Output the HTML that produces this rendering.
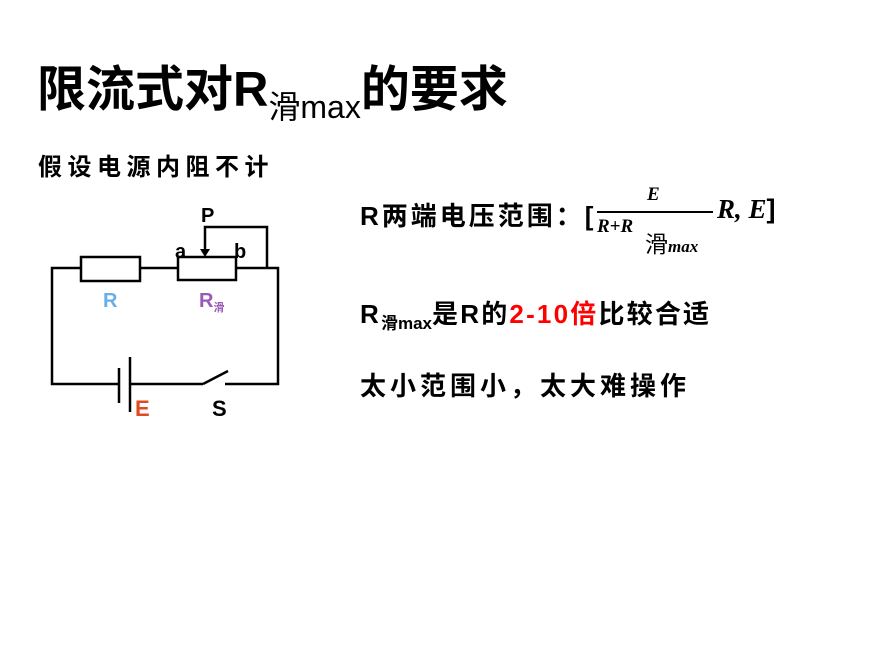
<!DOCTYPE html>
<html><head><meta charset="utf-8"><style>
body{margin:0;width:894px;height:668px;background:#fff;position:relative;font-family:"Liberation Sans","Noto Sans CJK SC",sans-serif;overflow:hidden}
.t{position:absolute;white-space:nowrap;color:#000}
.m{font-size:26px;font-weight:bold;letter-spacing:3px}
</style></head><body>
<div class="t" style="left:37px;top:50px;font-size:49px;font-weight:bold">限流式对R<span style="font-size:32px;font-weight:normal;position:relative;top:12px">滑max</span>的要求</div>
<div class="t" style="left:38px;top:147px;font-size:24px;letter-spacing:5.5px;font-weight:bold">假设电源内阻不计</div>
<div class="t m" style="left:360px;top:196px;">R两端电压范围：[</div>
<div class="t" style="left:647px;top:184px;font-size:19px;font-style:italic;font-weight:bold;font-family:'Liberation Serif',serif">E</div>
<div style="position:absolute;left:597px;top:211px;width:116px;height:2px;background:#000"></div>
<div class="t" style="left:597px;top:216px;font-size:19px;font-style:italic;font-weight:bold;font-family:'Liberation Serif',serif">R+R</div>
<div class="t" style="left:645px;top:225px;font-size:23px">滑<span style="font-size:17px;font-style:italic;font-weight:bold;font-family:'Liberation Serif',serif">max</span></div>
<div class="t" style="left:717px;top:194px;font-size:27px;font-style:italic;font-weight:bold;font-family:'Liberation Serif',serif">R, E<span style="font-style:normal;font-family:'Liberation Sans',sans-serif">]</span></div>
<div class="t m" style="left:360px;top:294px;letter-spacing:2.2px">R<span style="font-size:17px;letter-spacing:0;position:relative;top:6px">滑max</span>是R的<span style="color:#f00">2-10倍</span>比较合适</div>
<div class="t m" style="left:360px;top:366px;letter-spacing:4px">太小范围小，太大难操作</div>
<svg style="position:absolute;left:0;top:0" width="894" height="668">
<g stroke="#000" stroke-width="2.5" fill="none">
<polyline points="81,268 52,268 52,384 119,384"/>
<line x1="140" y1="268" x2="178" y2="268"/>
<polyline points="236,268 278,268 278,384 225,384"/>
<line x1="130" y1="384" x2="203" y2="384"/>
<line x1="203" y1="384" x2="228" y2="371"/>
<rect x="81" y="257" width="59" height="24"/>
<rect x="178" y="257" width="58" height="23"/>
<polyline points="205,252 205,227 267,227 267,268"/>
<line x1="130" y1="357" x2="130" y2="412"/>
<line x1="119" y1="368" x2="119" y2="403"/>
</g>
<polygon points="200,249 210,249 205,257" fill="#000"/>
<g font-family="Liberation Sans,Noto Sans CJK SC,sans-serif" font-weight="bold">
<text x="201" y="222" font-size="20">P</text>
<text x="175" y="258" font-size="20">a</text>
<text x="234" y="258" font-size="20">b</text>
<text x="103" y="307" font-size="20" fill="#6aaee6">R</text>
<text x="199" y="307" font-size="20" fill="#9b59b6">R<tspan font-size="11" dy="4">滑</tspan></text>
<text x="135" y="416" font-size="22" fill="#e04a1f">E</text>
<text x="212" y="416" font-size="22">S</text>
</g>
</svg>
</body></html>
